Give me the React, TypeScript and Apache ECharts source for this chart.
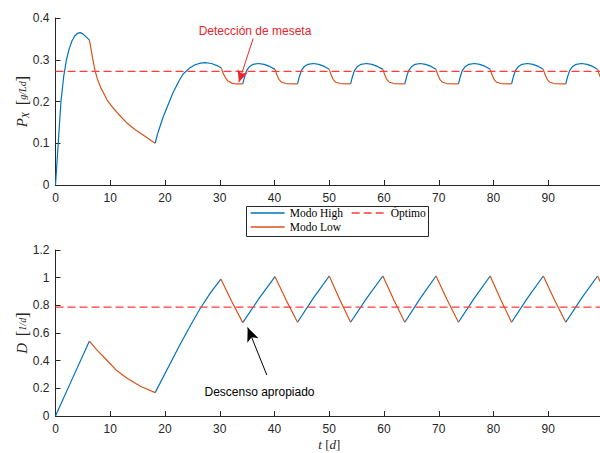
import React, { useEffect, useRef } from 'react';
import * as echarts from 'echarts';

// ---------- Data ----------
// Upper panel: P_X [g/Ld] vs t [d]
const pxHighSegments: number[][][] = [
  [[0, 0], [0.5, 0.1], [1, 0.2], [1.5, 0.26], [2, 0.3], [2.5, 0.326], [3, 0.345], [3.5, 0.357], [4, 0.363], [4.5, 0.365], [5, 0.362], [5.5, 0.356], [6.2, 0.347]],
  [[18.2, 0.1], [18.6, 0.12], [19.2, 0.145], [19.7, 0.164], [20.5, 0.19], [21.5, 0.222], [22.5, 0.248], [23.3, 0.266], [24.5, 0.28], [25.5, 0.288], [26.5, 0.292], [27.3, 0.293], [28.5, 0.291], [29.5, 0.286], [30.3, 0.28]],
  [[34.2, 0.242], [34.5, 0.258], [34.9, 0.274], [35.4, 0.283], [36.1, 0.289], [37.1, 0.291], [38.1, 0.289], [39.1, 0.284], [40.1, 0.277]],
  [[44.2, 0.242], [44.5, 0.258], [44.9, 0.274], [45.4, 0.283], [46.1, 0.289], [47.1, 0.291], [48.1, 0.289], [49.1, 0.284], [50.0, 0.277]],
  [[53.9, 0.242], [54.2, 0.258], [54.6, 0.274], [55.1, 0.283], [55.8, 0.289], [56.8, 0.291], [57.8, 0.289], [58.8, 0.284], [59.8, 0.277]],
  [[63.8, 0.242], [64.1, 0.258], [64.5, 0.274], [65.0, 0.283], [65.7, 0.289], [66.6, 0.291], [67.6, 0.289], [68.6, 0.284], [69.5, 0.277]],
  [[73.6, 0.242], [73.9, 0.258], [74.3, 0.274], [74.8, 0.283], [75.5, 0.289], [76.5, 0.291], [77.5, 0.289], [78.5, 0.284], [79.4, 0.277]],
  [[83.3, 0.242], [83.6, 0.258], [84.0, 0.274], [84.5, 0.283], [85.2, 0.289], [86.2, 0.291], [87.2, 0.289], [88.2, 0.284], [89.1, 0.277]],
  [[93.2, 0.242], [93.5, 0.258], [93.9, 0.274], [94.4, 0.283], [95.1, 0.289], [96.1, 0.291], [97.1, 0.289], [98.1, 0.284], [99.0, 0.277]],
];

const pxLowSegments: number[][][] = [
  [[6.2, 0.347], [6.5, 0.325], [6.8, 0.302], [7.2, 0.275], [7.7, 0.252], [8.3, 0.232], [9, 0.215], [9.4, 0.204], [10.5, 0.185], [11.5, 0.17], [13, 0.149], [14.5, 0.133], [16, 0.12], [17, 0.111], [18.2, 0.1]],
  [[30.3, 0.28], [30.6, 0.268], [31, 0.258], [31.5, 0.249], [32.2, 0.244], [33, 0.242], [34.2, 0.242]],
  [[40.1, 0.277], [40.4, 0.265], [40.8, 0.253], [41.3, 0.246], [42.1, 0.243], [44.2, 0.242]],
  [[50.0, 0.277], [50.3, 0.265], [50.7, 0.253], [51.2, 0.246], [52.0, 0.243], [53.9, 0.242]],
  [[59.8, 0.277], [60.1, 0.265], [60.5, 0.253], [61.0, 0.246], [61.8, 0.243], [63.8, 0.242]],
  [[69.5, 0.277], [69.8, 0.265], [70.2, 0.253], [70.7, 0.246], [71.5, 0.243], [73.6, 0.242]],
  [[79.4, 0.277], [79.7, 0.265], [80.1, 0.253], [80.6, 0.246], [81.4, 0.243], [83.3, 0.242]],
  [[89.1, 0.277], [89.4, 0.265], [89.8, 0.253], [90.3, 0.246], [91.1, 0.243], [93.2, 0.242]],
  [[99.0, 0.277], [99.3, 0.265], [99.7, 0.253]],
];

const pxOptimum = 0.272;

// Lower panel: D [1/d] vs t [d]
const dHighSegments: number[][][] = [
  [[0, 0], [3.1, 0.272], [6.2, 0.542]],
  [[18.2, 0.169], [20.5, 0.345], [22.8, 0.52], [24.8, 0.665], [26.4, 0.775], [28.3, 0.89], [30.2, 0.99]],
  [[34.2, 0.675], [37.15, 0.848], [40.1, 1.007]],
  [[44.2, 0.678], [47.1, 0.852], [50.0, 1.012]],
  [[53.9, 0.678], [56.85, 0.852], [59.8, 1.012]],
  [[63.8, 0.678], [66.65, 0.852], [69.5, 1.012]],
  [[73.6, 0.678], [76.5, 0.852], [79.4, 1.012]],
  [[83.3, 0.678], [86.2, 0.852], [89.1, 1.012]],
  [[93.2, 0.678], [96.1, 0.852], [99.0, 1.012]],
];

const dLowSegments: number[][][] = [
  [[6.2, 0.542], [7.5, 0.48], [9.35, 0.405], [11, 0.335], [13, 0.275], [15.5, 0.215], [18.2, 0.169]],
  [[30.2, 0.99], [32.2, 0.828], [34.2, 0.675]],
  [[40.1, 1.007], [42.15, 0.836], [44.2, 0.678]],
  [[50.0, 1.012], [51.95, 0.838], [53.9, 0.678]],
  [[59.8, 1.012], [61.8, 0.838], [63.8, 0.678]],
  [[69.5, 1.012], [71.55, 0.838], [73.6, 0.678]],
  [[79.4, 1.012], [81.35, 0.838], [83.3, 0.678]],
  [[89.1, 1.012], [91.15, 0.838], [93.2, 0.678]],
  [[99.0, 1.012], [99.7, 0.955]],
];

const dOptimum = 0.787;

// Annotation arrows (data coordinates: [t, value])
const pxArrow = [[36.1, 0.351], [33.5, 0.246]];
const dArrow = [[38.6, 0.296], [35.1, 0.64]];

const xMin = 0;
const xMax = 100;
const xInterval = 10;

// ---------- Styling ----------
const BLUE = '#0072BD';
const ORANGE = '#D95319';
const RED = '#ff3b3b';
const AX = '#262626';
const SANS = '"Liberation Sans", Arial, sans-serif';
const SERIF = '"Liberation Serif", "DejaVu Serif", serif';

const nameRich = {
  it: { fontFamily: SERIF, fontStyle: 'italic', fontSize: 15, color: AX },
  sub: { fontFamily: SERIF, fontStyle: 'italic', fontSize: 10, color: AX, padding: [7, 0, 0, 0] },
  br: { fontFamily: SERIF, fontSize: 17, color: AX },
  fr: { fontFamily: SERIF, fontStyle: 'italic', fontSize: 10, color: AX },
};

const xNameRich = {
  it: { fontFamily: SERIF, fontStyle: 'italic', fontSize: 13, color: AX },
  br: { fontFamily: SERIF, fontSize: 13, color: AX },
};

function segSeries(segs: number[][][], name: string, color: string, idx: number) {
  return segs.map((data) => ({
    type: 'line',
    name,
    xAxisIndex: idx,
    yAxisIndex: idx,
    data,
    symbol: 'none',
    showSymbol: false,
    silent: true,
    lineStyle: { color, width: 1.2 },
    itemStyle: { color },
    z: 3,
  }));
}

function xAxisCfg(idx: number, withName: boolean) {
  return {
    gridIndex: idx,
    type: 'value',
    min: xMin,
    max: xMax,
    interval: xInterval,
    axisLine: { show: true, onZero: false, lineStyle: { color: AX, width: 1 } },
    axisTick: { show: true, inside: true, length: 5, lineStyle: { color: AX } },
    axisLabel: { color: AX, fontSize: 12, fontFamily: SANS, margin: 7, showMaxLabel: false },
    splitLine: { show: false },
    name: withName ? '{it|t} {br|[}{it|d}{br|]}' : '',
    nameLocation: 'middle',
    nameGap: 22,
    nameMoveOverlap: false,
    nameTextStyle: { rich: xNameRich },
  };
}

function yAxisCfg(idx: number, max: number, interval: number, name: string) {
  return {
    gridIndex: idx,
    type: 'value',
    min: 0,
    max,
    interval,
    axisLine: { show: true, lineStyle: { color: AX, width: 1 } },
    axisTick: { show: true, inside: true, length: 5, lineStyle: { color: AX } },
    axisLabel: { color: AX, fontSize: 12, fontFamily: SANS, margin: 6 },
    splitLine: { show: false },
    name,
    nameLocation: 'middle',
    nameGap: 25,
    nameMoveOverlap: false,
    nameTextStyle: { rich: nameRich },
  };
}

function optimumSeries(idx: number, value: number, arrow: number[][], arrowColor: string, arrowSize: number[]) {
  return {
    type: 'line',
    name: 'Óptimo',
    xAxisIndex: idx,
    yAxisIndex: idx,
    data: [[xMin, value], [xMax, value]],
    symbol: 'none',
    showSymbol: false,
    silent: true,
    lineStyle: { color: RED, width: 1.3, type: [8, 4] },
    itemStyle: { color: RED },
    z: 4,
    markLine: {
      silent: true,
      animation: false,
      symbol: ['none', 'arrow'],
      symbolSize: arrowSize,
      label: { show: false },
      lineStyle: { color: arrowColor, type: 'solid', width: 1 },
      data: [[{ coord: arrow[0] }, { coord: arrow[1] }]],
    },
  };
}

export default function App() {
  const ref = useRef<HTMLDivElement>(null);

  useEffect(() => {
    if (!ref.current) return;
    const chart = echarts.init(ref.current, null, { renderer: 'svg' });
    const legendText = { fontFamily: SERIF, fontSize: 11.5, color: '#000' };
    const legendBase = {
      left: 250,
      itemWidth: 34,
      itemHeight: 14,
      itemGap: 8,
      padding: 0,
      selectedMode: false,
      textStyle: legendText,
      itemStyle: { opacity: 0 },
      lineStyle: { width: 1.3 },
      z: 10,
    };
    const option: any = {
      animation: false,
      backgroundColor: '#ffffff',
      grid: [
        { left: 55.5, right: -3, top: 18, height: 167, outerBoundsMode: 'none', containLabel: false },
        { left: 55.5, right: -3, top: 250, height: 166, outerBoundsMode: 'none', containLabel: false },
      ],
      xAxis: [xAxisCfg(0, false), xAxisCfg(1, true)],
      yAxis: [
        yAxisCfg(0, 0.4, 0.1, '{it|P}{sub|X}  {br|[}{fr|g/Ld}{br|]}'),
        yAxisCfg(1, 1.2, 0.2, '{it|D}  {br|[}{fr|1/d}{br|]}'),
      ],
      legend: [
        { ...legendBase, data: ['Modo High', 'Óptimo'], top: 207 },
        { ...legendBase, data: ['Modo Low'], top: 221 },
      ],
      graphic: [
        {
          type: 'rect',
          z: 1,
          shape: { x: 246.5, y: 206.5, width: 182, height: 30 },
          style: { fill: '#ffffff', stroke: AX, lineWidth: 1 },
        },
        {
          type: 'text',
          z: 10,
          x: 255,
          y: 31,
          style: {
            text: 'Detección de meseta',
            fill: '#e8262c',
            fontSize: 12,
            fontFamily: SANS,
            align: 'center',
            verticalAlign: 'middle',
            textAlign: 'center',
            textVerticalAlign: 'middle',
          },
        },
        {
          type: 'text',
          z: 10,
          x: 259.5,
          y: 392,
          style: {
            text: 'Descenso apropiado',
            fill: '#000000',
            fontSize: 12,
            fontFamily: SANS,
            align: 'center',
            verticalAlign: 'middle',
            textAlign: 'center',
            textVerticalAlign: 'middle',
          },
        },
      ],
      series: [
        ...segSeries(pxHighSegments, 'Modo High', BLUE, 0),
        ...segSeries(pxLowSegments, 'Modo Low', ORANGE, 0),
        optimumSeries(0, pxOptimum, pxArrow, '#e8262c', [8, 12]),
        ...segSeries(dHighSegments, 'Modo High', BLUE, 1),
        ...segSeries(dLowSegments, 'Modo Low', ORANGE, 1),
        optimumSeries(1, dOptimum, dArrow, '#000000', [9, 14]),
      ],
    };
    chart.setOption(option);
    return () => chart.dispose();
  }, []);

  return (
    <div
      ref={ref}
      style={{ position: 'fixed', left: 0, top: 0, width: 600, height: 453, background: '#fff' }}
    />
  );
}
